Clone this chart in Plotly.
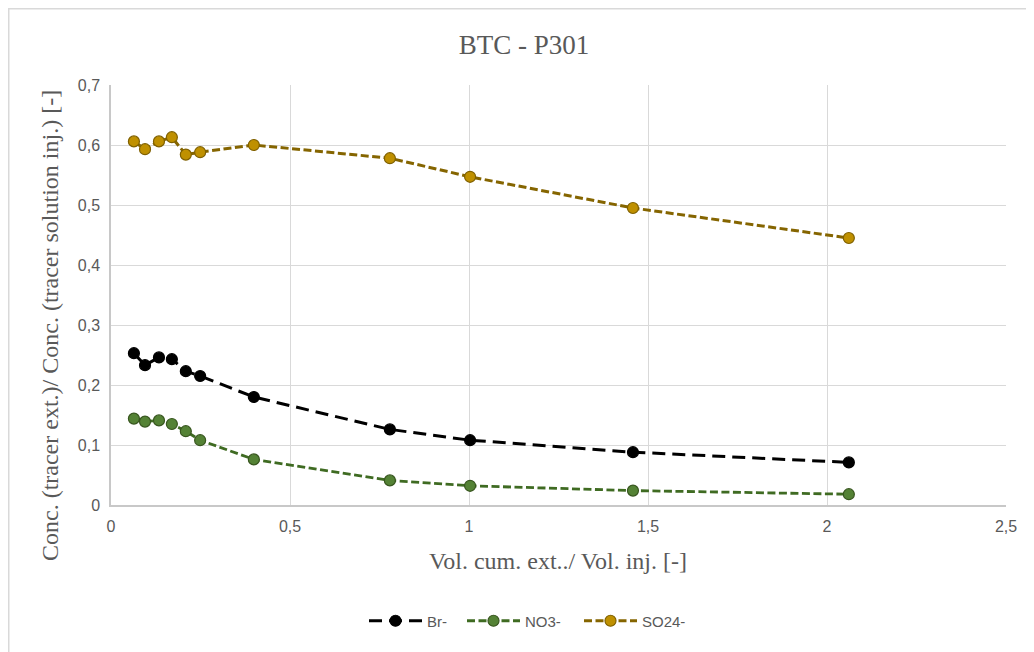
import plotly.graph_objects as go

vol_ratio = [0.064, 0.095, 0.134, 0.170, 0.209, 0.249, 0.399, 0.779, 1.003, 1.458, 2.061]
br = [0.253, 0.233, 0.246, 0.243, 0.223, 0.215, 0.180, 0.126, 0.108, 0.088, 0.071]
no3 = [0.144, 0.139, 0.141, 0.135, 0.123, 0.108, 0.076, 0.041, 0.032, 0.024, 0.018]
so4 = [0.606, 0.593, 0.606, 0.613, 0.584, 0.588, 0.600, 0.578, 0.547, 0.495, 0.445]

series_names = ["Br-", "NO3-", "SO24-"]
line_colors = ["#000000", "#3f6b22", "#856500"]
fill_colors = ["#000000", "#548235", "#bf9000"]
edge_colors = ["#000000", "#38561f", "#7f6000"]
line_dashes = ["13px,7px", "8px,3.5px", "8px,3.5px"]
line_widths = [3, 2.8, 3]
legend_ids = ["legend", "legend2", "legend3"]

# page is offset by the 8px body margin
OFF = 8
W, H = 1034 - OFF, 652 - OFF
L, T = 111 - OFF, 85 - OFF
R, B = W - (1006 - OFF), H - (505 - OFF)
pw, ph = W - L - R, H - T - B


def px_x(page_x):
    return (page_x - OFF - L) / pw


def px_y(page_y):
    return (505 - page_y) / ph


fig = go.Figure()
for name, ys, lc, fc, ec, dsh, lw, lg in zip(series_names, [br, no3, so4], line_colors, fill_colors,
                                             edge_colors, line_dashes, line_widths, legend_ids):
    fig.add_trace(go.Scatter(
        x=vol_ratio, y=ys, name=name, mode="lines+markers", legend=lg,
        line=dict(color=lc, width=lw, dash=dsh),
        marker=dict(size=11, color=fc, line=dict(color=ec, width=1.2)),
    ))

serif = "Liberation Serif, Times New Roman, serif"
sans = "Liberation Sans, Arial, sans-serif"
grey = "#595959"

legend_common = dict(orientation="h", xanchor="left", yanchor="middle", y=px_y(621),
                     font=dict(family=sans, size=15, color=grey), itemwidth=53,
                     bgcolor="rgba(0,0,0,0)")

fig.update_layout(
    width=W, height=H,
    margin=dict(l=L, r=R, t=T, b=B),
    paper_bgcolor="white", plot_bgcolor="white",
    separators=", ",
    title=dict(text="BTC - P301", x=px_x(524), xref="paper", xanchor="center",
               y=1 - (45 - OFF) / H, yanchor="middle",
               font=dict(family=serif, size=27, color=grey)),
    xaxis=dict(range=[0, 2.5], dtick=0.5, tick0=0, showgrid=True, gridcolor="#d9d9d9", gridwidth=1.3,
               showline=True, linecolor="#c8c8c8", linewidth=1.5, zeroline=False, ticks="",
               ticklabelstandoff=6,
               tickfont=dict(family=sans, size=16, color=grey)),
    yaxis=dict(range=[0, 0.7], dtick=0.1, tick0=0, showgrid=True, gridcolor="#d9d9d9", gridwidth=1.3,
               showline=True, linecolor="#c8c8c8", linewidth=1.5, zeroline=False, ticks="",
               tickformat="~g", ticklabelstandoff=6,
               tickfont=dict(family=sans, size=16, color=grey)),
    legend=dict(legend_common, x=px_x(364)),
    legend2=dict(legend_common, x=px_x(462)),
    legend3=dict(legend_common, x=px_x(579)),
    showlegend=True,
)

fig.add_annotation(text="Vol. cum. ext../ Vol. inj. [-]", xref="paper", yref="paper",
                   x=px_x(558), y=px_y(561), xanchor="center", yanchor="middle", showarrow=False,
                   font=dict(family=serif, size=24, color=grey))
fig.add_annotation(text="Conc. (tracer ext.)/ Conc. (tracer solution inj.) [-]", xref="paper", yref="paper",
                   x=px_x(50), y=px_y(326), xanchor="center", yanchor="middle", showarrow=False,
                   textangle=-90, font=dict(family=serif, size=24, color=grey))

# outer chart frame
fig.add_shape(type="rect", xref="paper", yref="paper",
              x0=(0.75 - L) / pw, x1=(W + 10 - L) / pw,
              y0=-(H + 10 - (505 - OFF)) / ph, y1=(505 - OFF - 0.75) / ph,
              line=dict(color="#d9d9d9", width=1.5), fillcolor="rgba(0,0,0,0)", layer="below")

fig.write_html("out.html")
